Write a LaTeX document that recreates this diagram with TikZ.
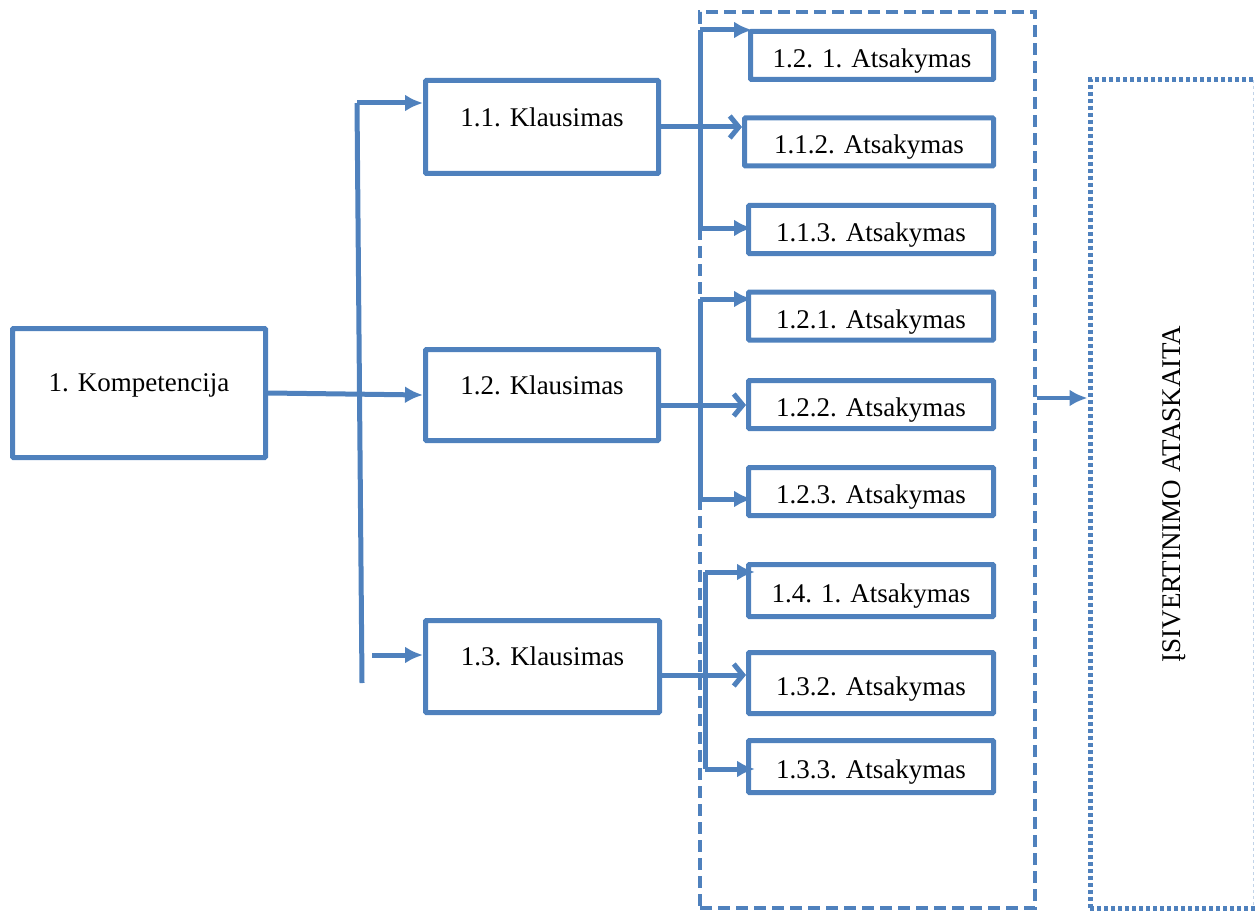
\documentclass[tikz,border=0pt]{standalone}
\usepackage{fontspec}
\setmainfont{Liberation Serif}
\usetikzlibrary{arrows.meta}
\definecolor{boxblue}{HTML}{4F81BD}

\begin{document}
\begin{tikzpicture}[x=1pt,y=-1pt,
    box/.style={draw=boxblue, line width=5pt, rounded corners=1pt, inner sep=0pt, font=\fontsize{27}{31}\selectfont},
    kbox/.style={box, text depth=20pt},
    abox/.style={box, text height=24pt, text depth=0pt, minimum width=245pt, minimum height=48pt},
    conn/.style={draw=boxblue, line width=5pt},
    tip/.style={-{Latex[length=18pt,width=17pt]}},
    vtip/.style={-{Straight Barb[length=9pt,width=22pt]}}]
    \useasboundingbox (0,0) rectangle (1255,912);

    % Group of answers
    \node[draw=boxblue, line width=4.5pt, dash pattern=on 12pt off 6pt, minimum width=335pt, minimum height=896pt] (grp) at (867.5,460) {};

    % Competence and questions
    \node[kbox, minimum width=253pt, minimum height=129pt] (komp) at (139,393) {1. Kompetencija};
    \node[kbox, minimum width=233pt, minimum height=93pt] (k1) at (542,127) {1.1. Klausimas};
    \node[kbox, minimum width=233pt, minimum height=91pt] (k2) at (542,395) {1.2. Klausimas};
    \node[kbox, minimum width=234pt, minimum height=92pt] (k3) at (542.5,666.5) {1.3. Klausimas};

    % Answers
    \node[abox, minimum width=243pt] (a1) at (872,55.5) {1.2. 1. Atsakymas};
    \node[abox, minimum width=249pt] (a2) at (869,142) {1.1.2. Atsakymas};
    \node[abox] (a3) at (871,229.5) {1.1.3. Atsakymas};
    \node[abox] (b1) at (871,316) {1.2.1. Atsakymas};
    \node[abox] (b2) at (871,404.5) {1.2.2. Atsakymas};
    \node[abox] (b3) at (871,491.5) {1.2.3. Atsakymas};
    \node[abox, minimum height=52pt] (c1) at (871,590.5) {1.4. 1. Atsakymas};
    \node[abox, minimum height=61pt] (c2) at (871,683) {1.3.2. Atsakymas};
    \node[abox, minimum height=52pt] (c3) at (871,766.5) {1.3.3. Atsakymas};

    % Report
    \node[draw=boxblue, line width=5pt, dash pattern=on 4pt off 3pt, minimum width=168pt, minimum height=828pt, inner sep=0pt, font=\fontsize{27}{31}\selectfont] (rep) at (1174,494) {\rotatebox{90}{ĮSIVERTINIMO ATASKAITA}\hspace{14pt}};
    \draw[draw=boxblue!35, line width=1pt, dashed] (1253,80) -- (1253,908);

    % Trunk to the questions
    \coordinate (t1) at (357,103);
    \coordinate (t3) at (362,683);
    \coordinate (t3a) at (372,655);
    \draw[conn] (t1) -- (t3);
    \draw[conn, tip] (t1) -- (t1 -| k1.west);
    \draw[conn, tip] (komp.east) -- (k2.west);
    \draw[conn, tip] (t3a) -- (t3a -| k3.west);

    % Branches of 1.1
    \coordinate (v1t) at (700,30);
    \coordinate (v1b) at (700,228);
    \draw[conn] (v1t) -- (v1b);
    \draw[conn, vtip] (k1.east) -- (k1.east -| a2.west);
    \draw[conn, tip, shorten >=-4pt] (v1t) -- (v1t -| a1.west);
    \draw[conn, tip, shorten >=-6pt] (v1b) -- (v1b -| a3.west);

    % Branches of 1.2
    \coordinate (v2t) at (700,299);
    \coordinate (v2b) at (700,499);
    \draw[conn] (v2t) -- (v2b);
    \draw[conn, vtip] (k2.east |- 0,405) -- (b2.west |- 0,405);
    \draw[conn, tip, shorten >=-6pt] (v2t) -- (v2t -| b1.west);
    \draw[conn, tip, shorten >=-6pt] (v2b) -- (v2b -| b3.west);

    % Branches of 1.3
    \coordinate (v3t) at (705,572);
    \coordinate (v3b) at (705,769);
    \draw[conn] (v3t) -- (v3b);
    \draw[conn, vtip] (k3.east |- 0,675) -- (c2.west |- 0,675);
    \draw[conn, tip, shorten >=-9pt] (v3t) -- (v3t -| c1.west);
    \draw[conn, tip, shorten >=-9pt] (v3b) -- (v3b -| c3.west);

    % Group to report
    \coordinate (g1) at (1037,398);
    \draw[conn, line width=4pt, tip] (g1) -- (g1 -| rep.west);
\end{tikzpicture}
\end{document}
